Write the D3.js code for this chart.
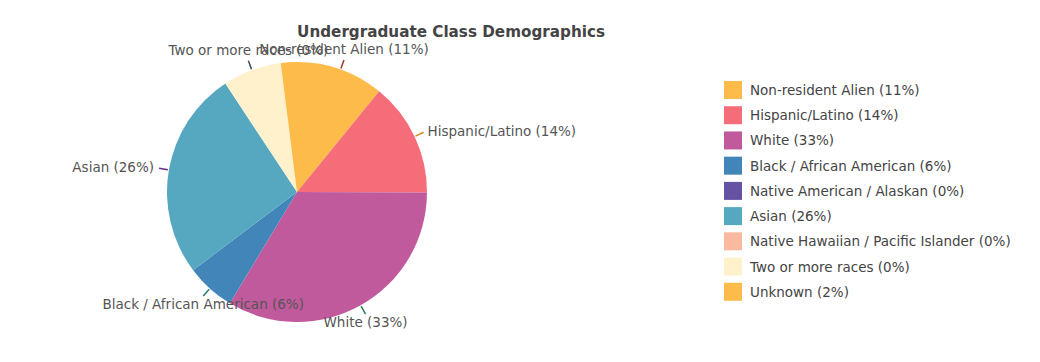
<!DOCTYPE html>
<html>
<head>
<meta charset="utf-8">
<script src="https://cdn.jsdelivr.net/npm/d3@7"></script>
<style>
  body { margin: 0; background: #fff; }
  text { font-family: "DejaVu Sans", Verdana, sans-serif; }
</style>
</head>
<body>
<script>
var width = 1040;
var height = 362;

// data
var categories = ["Non-resident Alien", "Hispanic/Latino", "White", "Black / African American",
  "Native American / Alaskan", "Asian", "Native Hawaiian / Pacific Islander", "Two or more races", "Unknown"];
var values = [10.9, 14.2, 33.6, 6.1, 0, 26, 0, 7.3, 2];
var labelPct = ["11%", "14%", "33%", "6%", "0%", "26%", "0%", "0%", "2%"];

// styles
var colors = ["#fdbb4a", "#f66d7a", "#c05a9c", "#4285b8", "#6552a3", "#56a8c1", "#fbb9a0", "#fff1cc", "#fdbb4a"];
var tickColors = ["#9e3b2b", "#d08a24", "#2e7a56", "#2c7a6c", "#5a3a8a", "#6a2d8a", "#b06a50", "#3c4a58", "#9e3b2b"];

var cx = 297, cy = 192, r = 130;

var svg = d3.select("body").append("svg")
  .attr("width", width)
  .attr("height", height);

svg.append("text")
  .attr("x", 451)
  .attr("y", 37)
  .attr("text-anchor", "middle")
  .attr("font-size", 15.2)
  .attr("font-weight", "bold")
  .attr("fill", "#444")
  .text("Undergraduate Class Demographics");

var data = categories.map(function(c, i) {
  return {name: c, value: values[i], label: c + " (" + labelPct[i] + ")", i: i};
});

var pie = d3.pie().sort(null).value(function(d) { return d.value; });
var arcs = pie(data);

var arc = d3.arc().innerRadius(0).outerRadius(r);

var g = svg.append("g").attr("transform", "translate(" + cx + "," + cy + ")");

g.selectAll("path.slice")
  .data(arcs)
  .enter().append("path")
  .attr("class", "slice")
  .attr("d", arc)
  .attr("fill", function(d) { return colors[d.data.i]; });

// outside labels with short ticks
var shown = arcs.filter(function(d) { return d.data.value >= 3; });

function pt(a, rr) {
  return [Math.sin(a) * rr, -Math.cos(a) * rr];
}

g.selectAll("line.tick")
  .data(shown)
  .enter().append("line")
  .attr("class", "tick")
  .attr("x1", function(d) { return pt((d.startAngle + d.endAngle) / 2, r + 1)[0]; })
  .attr("y1", function(d) { return pt((d.startAngle + d.endAngle) / 2, r + 1)[1]; })
  .attr("x2", function(d) { return pt((d.startAngle + d.endAngle) / 2, r + 10)[0]; })
  .attr("y2", function(d) { return pt((d.startAngle + d.endAngle) / 2, r + 10)[1]; })
  .attr("stroke", function(d) { return tickColors[d.data.i]; })
  .attr("stroke-width", 1.5);

g.selectAll("text.lbl")
  .data(shown)
  .enter().append("text")
  .attr("class", "lbl")
  .attr("font-size", 13.5)
  .attr("fill", "#555")
  .each(function(d) {
    var a = (d.startAngle + d.endAngle) / 2;
    var p = pt(a, r + 10);
    var s = Math.sin(a), c = Math.cos(a);
    var t = d3.select(this);
    if (Math.abs(s) > 0.8) {
      t.attr("x", p[0] + (s > 0 ? 4 : -5))
        .attr("y", p[1] + 4)
        .attr("text-anchor", s > 0 ? "start" : "end");
    } else if (c > 0) {
      t.attr("x", p[0]).attr("y", p[1] - 6).attr("text-anchor", "middle");
    } else {
      t.attr("x", p[0]).attr("y", p[1] + 13).attr("text-anchor", "middle");
    }
    t.text(d.data.label);
  });

// legend
var legend = svg.append("g").attr("transform", "translate(724,81)");
var rowY = d3.scaleBand().domain(categories).range([0, 227]);

var item = legend.selectAll("g.item")
  .data(data)
  .enter().append("g")
  .attr("class", "item")
  .attr("transform", function(d) { return "translate(0," + rowY(d.name) + ")"; });

item.append("rect")
  .attr("width", 18)
  .attr("height", 18)
  .attr("fill", function(d) { return colors[d.i]; });

item.append("text")
  .attr("x", 26)
  .attr("y", 14)
  .attr("font-size", 13.5)
  .attr("fill", "#444")
  .text(function(d) { return d.label; });
</script>
</body>
</html>
